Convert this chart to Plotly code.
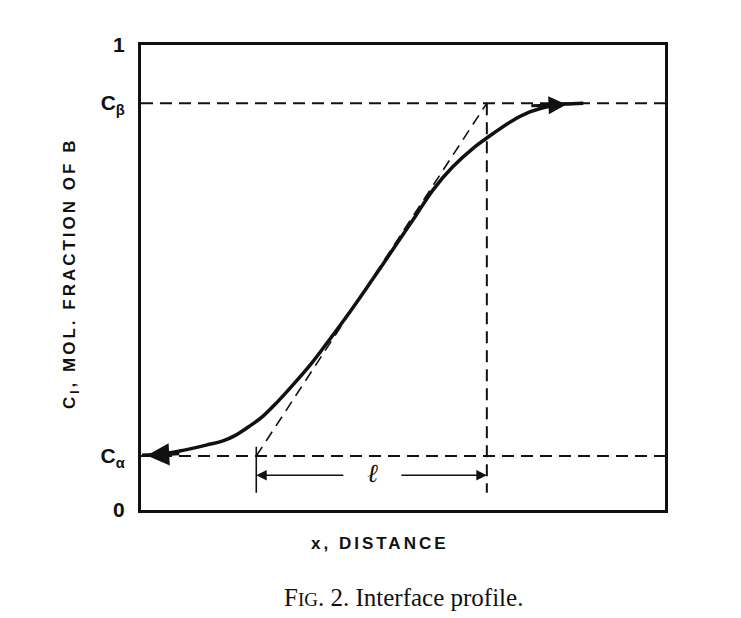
import plotly.graph_objects as go

# ---- data (x: fraction of plotted distance, y: mole fraction) ----
profile_x = [0.002, 0.036, 0.074, 0.126, 0.155, 0.181, 0.208, 0.233, 0.260, 0.290,
             0.323, 0.351, 0.393, 0.437, 0.489, 0.525, 0.557, 0.595, 0.637, 0.660,
             0.704, 0.742, 0.781, 0.809, 0.844]
profile_y = [0.118, 0.120, 0.127, 0.140, 0.148, 0.161, 0.181, 0.202, 0.232, 0.269,
             0.312, 0.353, 0.417, 0.488, 0.574, 0.634, 0.688, 0.738, 0.781, 0.800,
             0.834, 0.856, 0.869, 0.873, 0.875]

c_alpha = 0.116          # C_alpha level
c_beta = 0.875           # C_beta level
x_foot = 0.22            # tangent meets C_alpha
x_top = 0.66             # tangent meets C_beta
dim_y = 0.075            # level of the "l" dimension line
ext_bottom = 0.037       # lower end of extension lines
dim_gap = [0.389, 0.494] # gap left for the "l" symbol
x_range = [0, 1]
y_range = [0, 1]

tick_vals = [0, c_alpha, c_beta, 1]
tick_text = ["0", "C<sub>α</sub>", "C<sub>β</sub>", "1"]

DASH = "12px,7px"
BLACK = "#111111"

fig = go.Figure()

# horizontal reference levels
for lvl in (c_alpha, c_beta):
    fig.add_trace(go.Scatter(x=x_range, y=[lvl, lvl], mode="lines",
                             line=dict(color=BLACK, width=2, dash=DASH),
                             hoverinfo="skip", showlegend=False))

# tangent line
fig.add_trace(go.Scatter(x=[x_foot, x_top], y=[c_alpha, c_beta], mode="lines",
                         line=dict(color=BLACK, width=1.6, dash="11px,7px"),
                         hoverinfo="skip", showlegend=False))

# vertical dashed line at x_top
fig.add_trace(go.Scatter(x=[x_top, x_top], y=[c_beta, ext_bottom], mode="lines",
                         line=dict(color=BLACK, width=2, dash=DASH),
                         hoverinfo="skip", showlegend=False))

# extension line at the tangent foot
fig.add_trace(go.Scatter(x=[x_foot, x_foot], y=[ext_bottom, c_alpha + 0.02], mode="lines",
                         line=dict(color=BLACK, width=1.6),
                         hoverinfo="skip", showlegend=False))

# concentration profile
fig.add_trace(go.Scatter(x=profile_x, y=profile_y, mode="lines",
                         line=dict(color=BLACK, width=3.5, shape="spline", smoothing=1.0),
                         hoverinfo="skip", showlegend=False))

annotations = []
# arrowheads on the profile ends
annotations.append(dict(x=profile_x[1] - 0.025, y=profile_y[1] - 0.003, ax=profile_x[3] - 0.05,
                        ay=profile_y[1] + 0.001, axref="x", ayref="y", xref="x", yref="y",
                        text="", showarrow=True, arrowhead=2, arrowsize=1.5,
                        arrowwidth=3, arrowcolor=BLACK, standoff=0))
annotations.append(dict(x=profile_x[-2] + 0.003, y=profile_y[-2] - 0.001, ax=profile_x[-4],
                        ay=profile_y[-2] - 0.004, axref="x", ayref="y", xref="x", yref="y",
                        text="", showarrow=True, arrowhead=2, arrowsize=1.2,
                        arrowwidth=3, arrowcolor=BLACK, standoff=0))
# dimension line with arrows
annotations.append(dict(x=x_foot, y=dim_y, ax=dim_gap[0], ay=dim_y, axref="x", ayref="y",
                        xref="x", yref="y", text="", showarrow=True, arrowhead=2,
                        arrowsize=1.4, arrowwidth=1.5, arrowcolor=BLACK, standoff=0))
annotations.append(dict(x=x_top, y=dim_y, ax=dim_gap[1], ay=dim_y, axref="x", ayref="y",
                        xref="x", yref="y", text="", showarrow=True, arrowhead=2,
                        arrowsize=1.4, arrowwidth=1.5, arrowcolor=BLACK, standoff=0))
annotations.append(dict(x=(dim_gap[0] + dim_gap[1]) / 2, y=dim_y + 0.005, xref="x", yref="y",
                        text="<i>ℓ</i>", showarrow=False,
                        font=dict(family="DejaVu Serif", size=26, color=BLACK)))

# axis titles (positions given in page pixels, converted below)
annotations.append(dict(x=380, y=618 - 543, xref="paper", yref="paper", showarrow=False,
                        xanchor="center", yanchor="middle",
                        text="<span style='letter-spacing:3px'>x, DISTANCE</span>",
                        font=dict(family="Liberation Sans", size=17, color=BLACK, weight="bold")))
annotations.append(dict(x=71, y=618 - 274, xref="paper", yref="paper", showarrow=False,
                        xanchor="center", yanchor="middle", textangle=-90,
                        text="<span style='letter-spacing:3px'>C<sub>l</sub>, MOL. FRACTION OF B</span>",
                        font=dict(family="Liberation Sans", size=17, color=BLACK, weight="bold")))
# caption
annotations.append(dict(x=403, y=618 - 597, xref="paper", yref="paper", showarrow=False,
                        xanchor="center", yanchor="middle",
                        text="F<span style='font-size:19px'>IG</span>. 2. Interface profile.",
                        font=dict(family="Liberation Serif", size=25, color=BLACK)))

L, R, T, B = 141, 76, 45, 108
pw, ph = 741 - L - R, 618 - T - B
for a in annotations[-3:]:
    a["x"] = (a["x"] - L) / pw
    a["y"] = (a["y"] - B) / ph

fig.update_layout(
    width=741, height=618,
    margin=dict(l=L, r=R, t=T, b=B),
    paper_bgcolor="white", plot_bgcolor="white",
    showlegend=False,
    annotations=annotations,
    xaxis=dict(range=x_range, showgrid=False, zeroline=False, showticklabels=False,
               ticks="", showline=True, linecolor=BLACK, linewidth=2.5, mirror=True),
    yaxis=dict(range=y_range, showgrid=False, zeroline=False, tickvals=tick_vals,
               ticktext=tick_text, ticks="", ticklabelstandoff=9,
               tickfont=dict(family="Liberation Sans", size=21, color=BLACK, weight="bold"),
               showline=True, linecolor=BLACK, linewidth=3, mirror=True),
)

fig.write_html("out.html")
